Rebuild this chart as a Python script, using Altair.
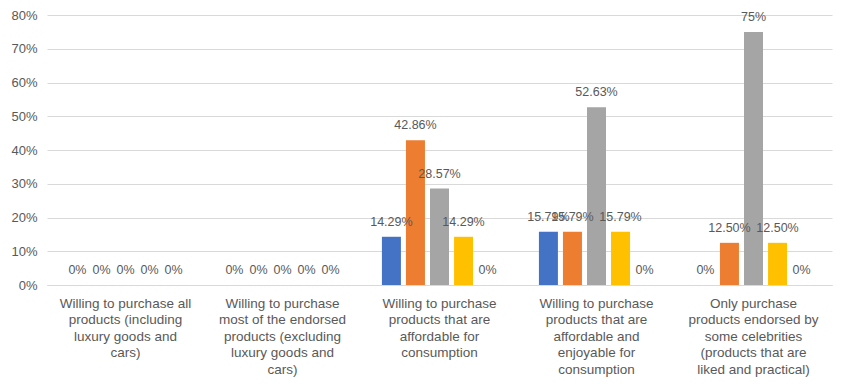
import altair as alt
import pandas as pd

categories = [
    "Willing to purchase all|products (including|luxury goods and|cars)",
    "Willing to purchase|most of the endorsed|products (excluding|luxury goods and|cars)",
    "Willing to purchase|products that are|affordable for|consumption",
    "Willing to purchase|products that are|affordable and|enjoyable for|consumption",
    "Only purchase|products endorsed by|some celebrities|(products that are|liked and practical)",
]
series = ["S1", "S2", "S3", "S4", "S5"]
colors = ["#4472C4", "#ED7D31", "#A5A5A5", "#FFC000", "#5B9BD5"]
values = {
    "S1": [0, 0, 14.29, 15.79, 0],
    "S2": [0, 0, 42.86, 15.79, 12.50],
    "S3": [0, 0, 28.57, 52.63, 75],
    "S4": [0, 0, 14.29, 15.79, 12.50],
    "S5": [0, 0, 0, 0, 0],
}
labels = {
    "S1": ["0%", "0%", "14.29%", "15.79%", "0%"],
    "S2": ["0%", "0%", "42.86%", "15.79%", "12.50%"],
    "S3": ["0%", "0%", "28.57%", "52.63%", "75%"],
    "S4": ["0%", "0%", "14.29%", "15.79%", "12.50%"],
    "S5": ["0%", "0%", "0%", "0%", "0%"],
}

rows = []
for s in series:
    for i, c in enumerate(categories):
        rows.append({"cat": c, "series": s, "value": values[s][i] / 100, "label": labels[s][i]})
df = pd.DataFrame(rows)

FONT = "Liberation Sans"

x = alt.X("cat:N", sort=categories, title=None,
          scale=alt.Scale(paddingInner=0, paddingOuter=0),
          axis=alt.Axis(labelExpr="split(datum.label, '|')", labelAngle=0,
                        labelFontSize=13.5, labelColor="#595959", labelFont=FONT,
                        labelLineHeight=16.5, labelPadding=11, ticks=False,
                        domainColor="#D9D9D9", labelLimit=200))
xo = alt.XOffset("series:N", sort=series,
                 scale=alt.Scale(paddingInner=0.21, paddingOuter=0.87))
y = alt.Y("value:Q", title=None,
          scale=alt.Scale(domain=[0, 0.8], nice=False),
          axis=alt.Axis(format=".0%", values=[0, .1, .2, .3, .4, .5, .6, .7, .8],
                        labelFontSize=13, labelColor="#595959", labelFont=FONT,
                        ticks=False, domain=False, gridColor="#D9D9D9",
                        labelPadding=10))

bars = alt.Chart(df).mark_bar().encode(
    x=x, xOffset=xo, y=y,
    color=alt.Color("series:N", sort=series,
                    scale=alt.Scale(domain=series, range=colors), legend=None),
)
text = alt.Chart(df).mark_text(baseline="alphabetic", dy=-11, fontSize=12.5,
                               color="#595959", font=FONT).encode(
    x=x, xOffset=xo, y=y, text="label:N")

chart = (bars + text).properties(
    width=785, height=270,
    autosize=alt.AutoSizeParams(type="none"),
    padding={"left": 39, "top": 7, "right": 5, "bottom": 100},
).configure_view(stroke=None)

chart.save("out.html", embed_options={"renderer": "svg", "actions": False})
